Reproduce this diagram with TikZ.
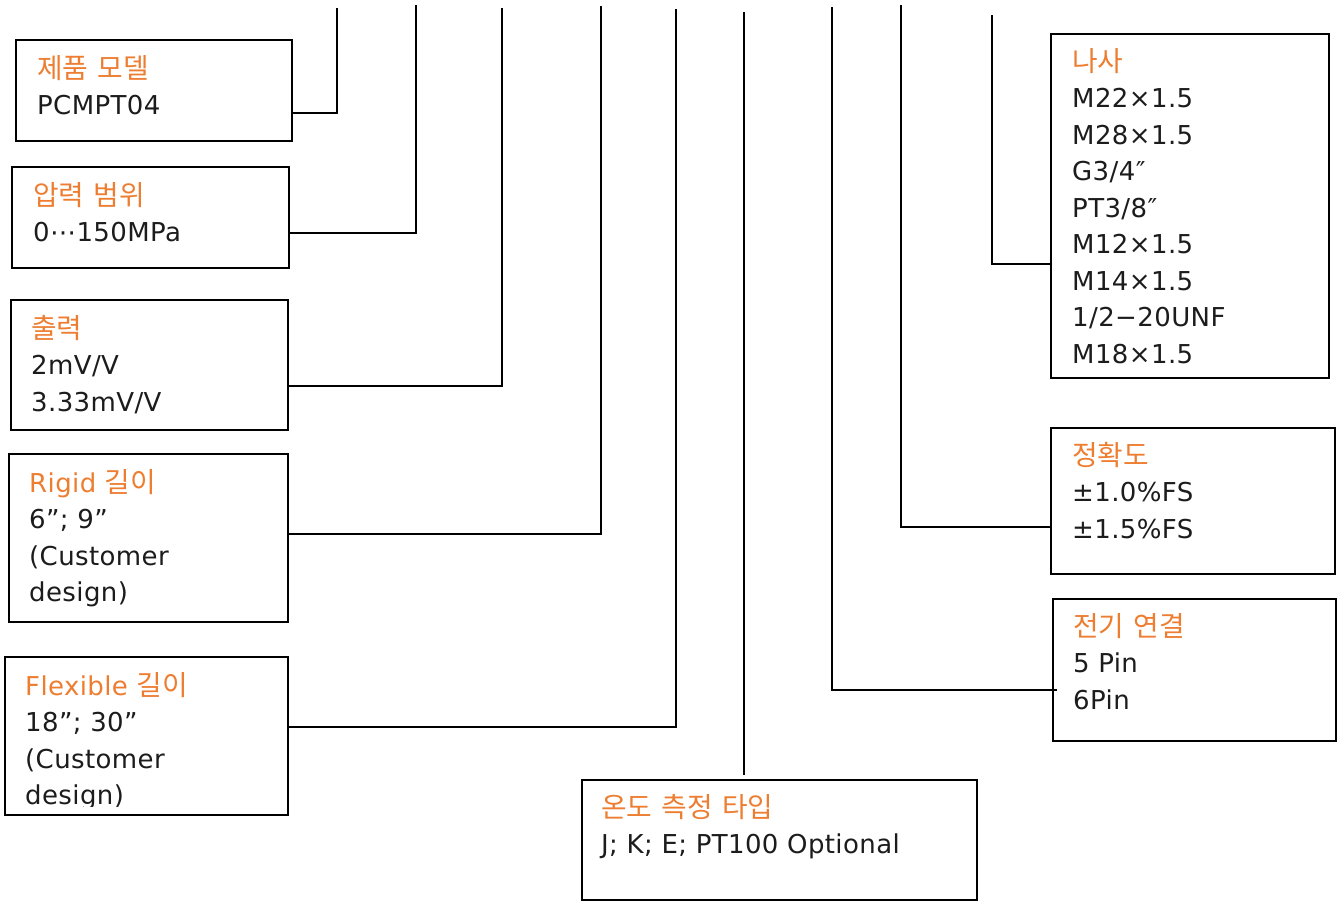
\documentclass[tikz,border=0pt]{standalone}
\usepackage{fontspec}
\setmainfont{DejaVu Sans}[LetterSpace=1.5]
\newfontfamily\kr{Noto Sans CJK KR}[Scale=1.07, WordSpace=1.5]
\definecolor{titleorange}{RGB}{237,125,49}
\definecolor{bodytext}{RGB}{28,28,28}
\newcommand{\ttl}[1]{{\color{titleorange}#1}}
\begin{document}
\begin{tikzpicture}[x=1pt,y=-1pt,
  boxstyle/.style={draw=black, line width=1.9pt, rectangle, inner sep=0pt, anchor=north west},
  textstyle/.style={anchor=north west, inner sep=0pt, align=left,
    font=\fontsize{26}{36.5}\selectfont, text=bodytext},
  link/.style={draw=black, line width=1.9pt}]
\useasboundingbox (0,0) rectangle (1337,900);

% boxes
\node[boxstyle, minimum width=276pt, minimum height=101pt] (b1) at (15,39) {};
\node[boxstyle, minimum width=277pt, minimum height=101pt] (b2) at (11,166) {};
\node[boxstyle, minimum width=277pt, minimum height=130pt] (b3) at (10,299) {};
\node[boxstyle, minimum width=279pt, minimum height=168pt] (b4) at (8,453) {};
\node[boxstyle, minimum width=283pt, minimum height=158pt] (b5) at (4,656) {};
\node[boxstyle, minimum width=395pt, minimum height=120pt] (b6) at (581,779) {};
\node[boxstyle, minimum width=278pt, minimum height=344pt] (b7) at (1050,33) {};
\node[boxstyle, minimum width=284pt, minimum height=146pt] (b8) at (1050,427) {};
\node[boxstyle, minimum width=283pt, minimum height=142pt] (b9) at (1052,598) {};

% texts
\node[textstyle] (t1) at (37,52.5) {\strut\ttl{\kr 제품 모델}\\PCMPT04};
\node[textstyle] (t2) at (33,179.5) {\strut\ttl{\kr 압력 범위}\\0⋯150MPa};
\node[textstyle] (t3) at (31,312.5) {\strut\ttl{\kr 출력}\\2mV/V\\3.33mV/V};
\node[textstyle] (t4) at (29,466.5) {\strut\ttl{Rigid {\kr 길이}}\\6”; 9”\\(Customer\\design)};
\begin{scope}
\clip (0,0) rectangle (1337,806);
\node[textstyle] (t5) at (25,669.5) {\strut\ttl{Flexible {\kr 길이}}\\18”; 30”\\(Customer\\design)};
\end{scope}
\node[textstyle] (t6) at (601,791.5) {\strut\ttl{\kr 온도 측정 타입}\\J; K; E; PT100 Optional};
\node[textstyle] (t7) at (1072,45.5) {\strut\ttl{\kr 나사}\\M22×1.5\\M28×1.5\\G3/4″\\PT3/8″\\M12×1.5\\M14×1.5\\1/2−20UNF\\M18×1.5};
\node[textstyle] (t8) at (1072,439.5) {\strut\ttl{\kr 정확도}\\±1.0\%FS\\±1.5\%FS};
\node[textstyle] (t9) at (1073,610.5) {\strut\ttl{\kr 전기 연결}\\5 Pin\\6Pin};

% connector ends
\coordinate (top1) at (337,8);   \coordinate (j1) at (337,113);
\coordinate (top2) at (416,5);   \coordinate (j2) at (416,233);
\coordinate (top3) at (502,8);   \coordinate (j3) at (502,386);
\coordinate (top4) at (601,6);   \coordinate (j4) at (601,534);
\coordinate (top5) at (676,9);   \coordinate (j5) at (676,727);
\coordinate (top6) at (744,12);
\coordinate (top9) at (832,7);   \coordinate (j9) at (832,690);
\coordinate (top8) at (901,5);   \coordinate (j8) at (901,527);
\coordinate (top7) at (992,15);  \coordinate (j7) at (992,264);

% connectors
\draw[link] (b1.east |- j1) -- (j1) -- (top1);
\draw[link] (b2.east |- j2) -- (j2) -- (top2);
\draw[link] (b3.east |- j3) -- (j3) -- (top3);
\draw[link] (b4.east |- j4) -- (j4) -- (top4);
\draw[link] (b5.east |- j5) -- (j5) -- (top5);
\draw[link] (top6) -- ([yshift=4pt]b6.north -| top6);
\draw[link] (top9) -- (j9) -- ([xshift=5pt]b9.west |- j9);
\draw[link] (top8) -- (j8) -- (b8.west |- j8);
\draw[link] (top7) -- (j7) -- (b7.west |- j7);
\end{tikzpicture}
\end{document}
